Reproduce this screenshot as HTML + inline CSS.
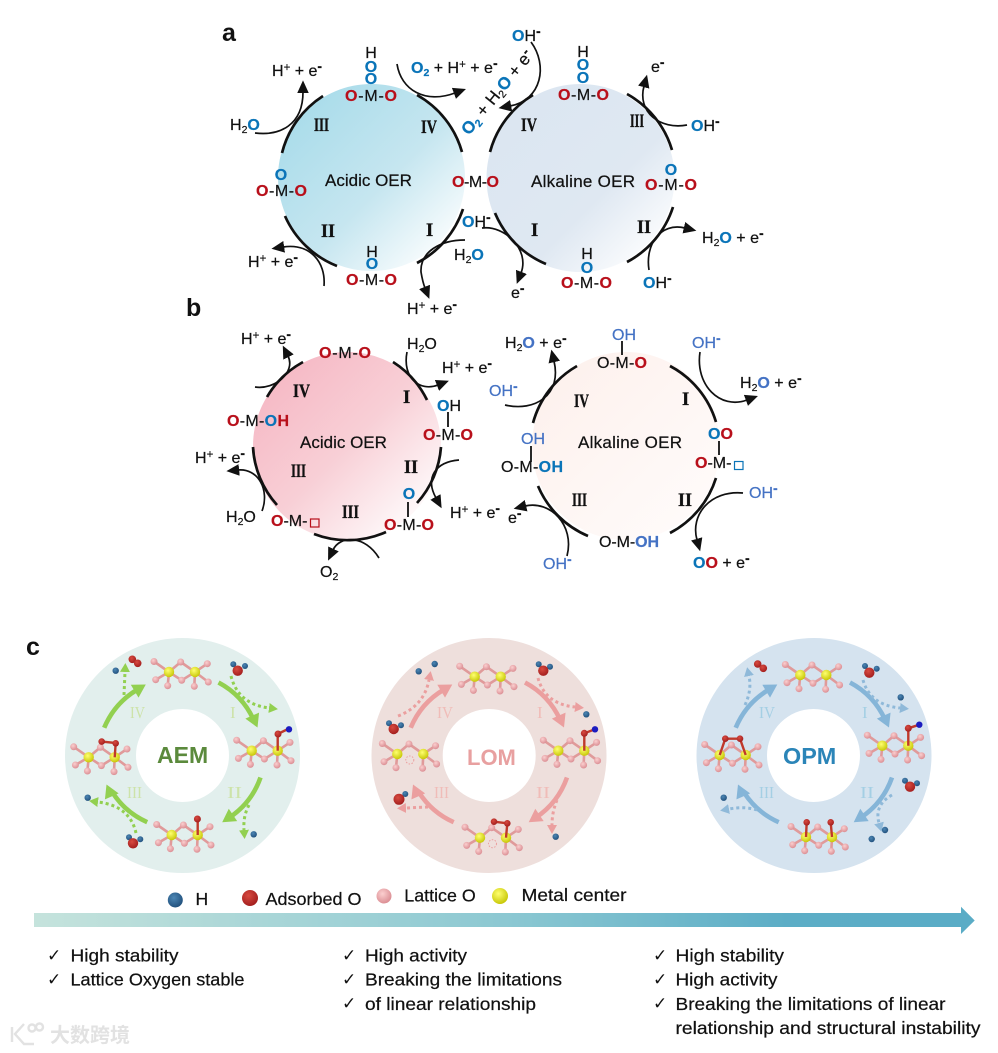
<!DOCTYPE html>
<html><head><meta charset="utf-8"><style>
html,body{margin:0;padding:0;background:#fff}
svg{display:block}
text{font-family:"Liberation Sans","Noto Sans CJK SC",sans-serif;font-size:16px;fill:#111;stroke:#111;stroke-width:.22}
.r{fill:#b80f1a;stroke:#b80f1a;font-weight:bold}.b{fill:#0a74b8;stroke:#0a74b8;font-weight:bold}.c{fill:#4472c4;stroke:#4472c4}.cb{fill:#4472c4;stroke:#4472c4;font-weight:bold}
.u{baseline-shift:5px;font-size:11.5px}.m{baseline-shift:5px;font-size:14px;font-weight:bold}.d{baseline-shift:-3px;font-size:10.5px}
.n{font-family:"Liberation Serif",serif;font-weight:bold;font-size:18.5px;stroke-width:.35}
.t{font-size:17px}.big{font-size:25px;font-weight:bold;stroke-width:0}
.l{font-size:17.5px}.k{font-family:"DejaVu Sans",sans-serif;font-size:17px;stroke-width:0}
.arc{fill:none;stroke:#111;stroke-width:2.7}
.cv{fill:none;stroke:#111;stroke-width:1.7;marker-end:url(#ah)}
.bar{stroke:#111;stroke-width:1.8}
.w{font-family:"Liberation Serif",serif;font-size:17px;stroke:none}
.x{stroke:none}
.dg,.dp,.db{fill:none;stroke-width:3;stroke-dasharray:3 3}
.dg{stroke:#92d050;marker-end:url(#hg)}.dp{stroke:#eb9f9f;marker-end:url(#hp)}.db{stroke:#8fb9d9;marker-end:url(#hb)}
</style></head><body>
<svg xmlns="http://www.w3.org/2000/svg" width="998" height="1053" viewBox="0 0 998 1053">
<defs>
<linearGradient id="g1" x1="0" y1="0" x2="1" y2="1"><stop offset=".12" stop-color="#a9dcea"/><stop offset=".55" stop-color="#c6e6f0"/><stop offset=".92" stop-color="#fff"/></linearGradient>
<linearGradient id="g2" x1="0" y1="0" x2="1" y2="1"><stop offset=".1" stop-color="#dbe6f1"/><stop offset=".6" stop-color="#dfe8f2"/><stop offset=".92" stop-color="#fff"/></linearGradient>
<linearGradient id="g3" x1="0" y1="0" x2="1" y2="1"><stop offset=".12" stop-color="#f6b9c5"/><stop offset=".5" stop-color="#f8cfd6"/><stop offset=".92" stop-color="#fff"/></linearGradient>
<linearGradient id="g4" x1="0" y1="0" x2="1" y2="1"><stop offset=".1" stop-color="#fdf1ed"/><stop offset=".9" stop-color="#fffbfa"/></linearGradient>
<linearGradient id="ga" x1="34" y1="0" x2="975" y2="0" gradientUnits="userSpaceOnUse"><stop offset="0" stop-color="#c5e3dc"/><stop offset=".5" stop-color="#8cc8d2"/><stop offset=".8" stop-color="#5cadc6"/><stop offset="1" stop-color="#5aacc6"/></linearGradient>
<radialGradient id="y" cx=".4" cy=".35" r=".7"><stop offset="0" stop-color="#ffff70"/><stop offset="1" stop-color="#c4c400"/></radialGradient>
<radialGradient id="p" cx=".4" cy=".35" r=".7"><stop offset="0" stop-color="#fbcfcf"/><stop offset="1" stop-color="#d98a90"/></radialGradient>
<radialGradient id="o" cx=".4" cy=".35" r=".7"><stop offset="0" stop-color="#d84a40"/><stop offset="1" stop-color="#a01c1c"/></radialGradient>
<radialGradient id="h" cx=".4" cy=".35" r=".7"><stop offset="0" stop-color="#4c86b4"/><stop offset="1" stop-color="#1f4e7a"/></radialGradient>
<marker id="ah" markerUnits="userSpaceOnUse" markerWidth="14" markerHeight="14" refX="1" refY="6" orient="auto" viewBox="0 0 12 12"><path d="M0 1 L11 6 L0 11 Z" fill="#111"/></marker>
<marker id="hg" markerUnits="userSpaceOnUse" markerWidth="10" markerHeight="10" refX="0" refY="5" orient="auto" viewBox="0 0 10 10"><path d="M0 0L9 5L0 10Z" fill="#92d050"/></marker>
<marker id="hp" markerUnits="userSpaceOnUse" markerWidth="10" markerHeight="10" refX="0" refY="5" orient="auto" viewBox="0 0 10 10"><path d="M0 0L9 5L0 10Z" fill="#eb9f9f"/></marker>
<marker id="hb" markerUnits="userSpaceOnUse" markerWidth="10" markerHeight="10" refX="0" refY="5" orient="auto" viewBox="0 0 10 10"><path d="M0 0L9 5L0 10Z" fill="#8fb9d9"/></marker>
<g id="bonds" stroke="#e09a9a" stroke-width="2.6">
<path d="M-13 0L-28 -10.5M-13 0L-1.3 -10M-13 0L-26.3 7.7M-13 0L-14.3 13.7M13 0L-1.3 -10M13 0L25.3 -8.3M13 0L26.3 10M13 0L12.3 14.3"/>
</g>
<g id="atoms">
<circle cx="-28" cy="-10.5" r="3.5" fill="url(#p)"/><circle cx="-1.3" cy="-10" r="3.5" fill="url(#p)"/><circle cx="25.3" cy="-8.3" r="3.5" fill="url(#p)"/><circle cx="-26.3" cy="7.7" r="3.5" fill="url(#p)"/><circle cx="26.3" cy="10" r="3.5" fill="url(#p)"/><circle cx="-14.3" cy="13.7" r="3.5" fill="url(#p)"/><circle cx="12.3" cy="14.3" r="3.5" fill="url(#p)"/>
<circle cx="-13" cy="0" r="5.2" fill="url(#y)"/><circle cx="13" cy="0" r="5.2" fill="url(#y)"/>
</g>
<g id="m"><use href="#bonds"/><path d="M-13 0L-.3 8.3M13 0L-.3 8.3" stroke="#e09a9a" stroke-width="2.6"/><circle cx="-.3" cy="8.3" r="3.5" fill="url(#p)"/><use href="#atoms"/></g>
<g id="mv"><use href="#bonds"/><circle cx="-.5" cy="6" r="4" fill="none" stroke="#eb9f9f" stroke-dasharray="1.5 1.5"/><use href="#atoms"/></g>
<g id="arr" fill="none" stroke="currentColor" stroke-width="4.6">
<path d="M36 -73A80 80 0 0 1 71 -36"/><polygon points="0,0 -13,-7.5 -13,7.5" transform="translate(75 -28) rotate(66)" fill="currentColor" stroke="none"/>
<path d="M78 22A80 80 0 0 1 47 62"/><polygon points="0,0 -13,-7.5 -13,7.5" transform="translate(39.7 66.7) rotate(146)" fill="currentColor" stroke="none"/>
<path d="M-35.3 66.7A80 80 0 0 1 -70 37"/><polygon points="0,0 -13,-7.5 -13,7.5" transform="translate(-76 29) rotate(246)" fill="currentColor" stroke="none"/>
<path d="M-78.3 -27.7A80 80 0 0 1 -45 -66"/><polygon points="0,0 -13,-7.5 -13,7.5" transform="translate(-36.7 -71) rotate(-31)" fill="currentColor" stroke="none"/>
</g>
</defs>

<!-- panel a -->
<text class="big" x="222" y="41">a</text>
<circle cx="371.5" cy="177.5" r="93.5" fill="url(#g1)"/>
<circle cx="580.5" cy="178" r="94" fill="url(#g2)"/>
<path class="arc" d="M282 153A95 95 0 0 1 323 96M417 95A95 95 0 0 1 462 152M463 209A95 95 0 0 1 417 263M337 266A95 95 0 0 1 285 216"/>
<path class="arc" d="M490 152A95 95 0 0 1 533 95M627 94A95 95 0 0 1 672 150M673 207A95 95 0 0 1 627 262M546 264A95 95 0 0 1 495 213"/>
<path class="cv" d="M255 133C280 136 303 125 303 92"/>
<path class="cv" d="M397 64C401 90 425 104 455 93"/>
<path class="cv" d="M465 240C440 240 420 252 421 272C422 278 423 283 425 288"/>
<path class="cv" d="M324 286C326 262 310 243 283 247"/>
<path class="cv" d="M531 42C548 65 542 100 510 106"/>
<path class="cv" d="M687 125C660 130 637 112 644 86"/>
<path class="cv" d="M649 270C645 245 660 222 685 228"/>
<path class="cv" d="M482 228C505 225 530 250 521 273"/>

<text x="371" y="58" text-anchor="middle">H</text><text class="b" x="371" y="72" text-anchor="middle">O</text><text class="b" x="371" y="84" text-anchor="middle">O</text>
<text x="345" y="101" textLength="52"><tspan class="r">O</tspan>-M-<tspan class="r">O</tspan></text>
<text x="272" y="76">H<tspan class="u">+</tspan> + e<tspan class="m">-</tspan></text>
<text x="230" y="130">H<tspan class="d">2</tspan><tspan class="b">O</tspan></text>
<text class="b" x="281" y="180" text-anchor="middle">O</text>
<text x="256" y="196" textLength="51"><tspan class="r">O</tspan>-M-<tspan class="r">O</tspan></text>
<text class="t" x="325" y="186">Acidic OER</text>
<text x="452" y="187" textLength="47"><tspan class="r">O</tspan>-M-<tspan class="r">O</tspan></text>
<text class="n" x="314" y="131" textLength="15" lengthAdjust="spacingAndGlyphs">III</text>
<text class="n" x="421" y="133" textLength="16" lengthAdjust="spacingAndGlyphs">IV</text>
<text class="n" x="426" y="236">I</text>
<text class="n" x="321" y="237" textLength="14" lengthAdjust="spacingAndGlyphs">II</text>
<text x="372" y="257" text-anchor="middle">H</text><text class="b" x="372" y="269" text-anchor="middle">O</text>
<text x="346" y="285" textLength="51"><tspan class="r">O</tspan>-M-<tspan class="r">O</tspan></text>
<text x="248" y="267">H<tspan class="u">+</tspan> + e<tspan class="m">-</tspan></text>
<text x="454" y="260">H<tspan class="d">2</tspan><tspan class="b">O</tspan></text>
<text x="462" y="227"><tspan class="b">O</tspan>H<tspan class="m">-</tspan></text>
<text x="407" y="314">H<tspan class="u">+</tspan> + e<tspan class="m">-</tspan></text>
<text x="411" y="73"><tspan class="b">O</tspan><tspan class="b d">2</tspan> + H<tspan class="u">+</tspan> + e<tspan class="m">-</tspan></text>
<text transform="translate(469 136) rotate(-51)" style="font-size:17px"><tspan class="b">O</tspan><tspan class="b d">2</tspan> + H<tspan class="d">2</tspan><tspan class="b">O</tspan> + e<tspan class="m">-</tspan></text>
<text x="512" y="41"><tspan class="b">O</tspan>H<tspan class="m">-</tspan></text>
<text x="583" y="57" text-anchor="middle">H</text><text class="b" x="583" y="70" text-anchor="middle">O</text><text class="b" x="583" y="83" text-anchor="middle">O</text>
<text x="558" y="100" textLength="51"><tspan class="r">O</tspan>-M-<tspan class="r">O</tspan></text>
<text x="651" y="72">e<tspan class="m">-</tspan></text>
<text x="691" y="131"><tspan class="b">O</tspan>H<tspan class="m">-</tspan></text>
<text class="n" x="521" y="131" textLength="16" lengthAdjust="spacingAndGlyphs">IV</text>
<text class="n" x="630" y="127" textLength="14" lengthAdjust="spacingAndGlyphs">III</text>
<text class="b" x="671" y="175" text-anchor="middle">O</text>
<text x="645" y="190" textLength="52"><tspan class="r">O</tspan>-M-<tspan class="r">O</tspan></text>
<text class="t" x="531" y="187" textLength="104">Alkaline OER</text>
<text class="n" x="637" y="233" textLength="14" lengthAdjust="spacingAndGlyphs">II</text>
<text class="n" x="531" y="236">I</text>
<text x="702" y="243">H<tspan class="d">2</tspan><tspan class="b">O</tspan> + e<tspan class="m">-</tspan></text>
<text x="587" y="259" text-anchor="middle">H</text><text class="b" x="587" y="273" text-anchor="middle">O</text>
<text x="561" y="288" textLength="51"><tspan class="r">O</tspan>-M-<tspan class="r">O</tspan></text>
<text x="643" y="288"><tspan class="b">O</tspan>H<tspan class="m">-</tspan></text>
<text x="511" y="298">e<tspan class="m">-</tspan></text>

<!-- panel b -->
<text class="big" x="186" y="316">b</text>
<circle cx="347" cy="446" r="94" fill="url(#g3)"/>
<circle cx="626" cy="446" r="94" fill="url(#g4)"/>
<path class="arc" d="M393 362A94 94 0 0 1 427 400M441 447A94 94 0 0 1 417 503M386 532A94 94 0 0 1 314 534M277 505A94 94 0 0 1 253 447M267 397A94 94 0 0 1 303 362"/>
<path class="arc" d="M670 366A94 94 0 0 1 716 422M716 478A94 94 0 0 1 670 533M588 536A94 94 0 0 1 538 486M533 423A94 94 0 0 1 577 366"/>
<path class="cv" d="M255 387C275 390 296 372 288 356"/>
<path class="cv" d="M407 352C402 378 420 392 438 385"/>
<path class="cv" d="M459 460C435 462 425 478 436 498"/>
<path class="cv" d="M262 511C270 490 258 468 238 470"/>
<path class="cv" d="M379 558C365 535 340 535 333 550"/>
<path class="cv" d="M505 405C535 412 562 395 554 361"/>
<path class="cv" d="M700 352C695 385 720 410 747 400"/>
<path class="cv" d="M743 493C710 490 690 515 697 540"/>
<path class="cv" d="M567 556C575 525 550 500 525 506"/>
<path class="bar" d="M448 412V427M408 502V517M622 341V355M719 441V455M531 446V462"/>

<text x="241" y="344">H<tspan class="u">+</tspan> + e<tspan class="m">-</tspan></text>
<text x="319" y="358" textLength="52"><tspan class="r">O</tspan>-M-<tspan class="r">O</tspan></text>
<text x="407" y="349">H<tspan class="d">2</tspan>O</text>
<text x="442" y="373">H<tspan class="u">+</tspan> + e<tspan class="m">-</tspan></text>
<text class="n" x="403" y="403">I</text>
<text class="n" x="293" y="397" textLength="17" lengthAdjust="spacingAndGlyphs">IV</text>
<text x="437" y="411"><tspan class="b">O</tspan>H</text>
<text x="423" y="440" textLength="50"><tspan class="r">O</tspan>-M-<tspan class="r">O</tspan></text>
<text x="227" y="426" textLength="62"><tspan class="r">O</tspan>-M-<tspan class="b">O</tspan><tspan class="r">H</tspan></text>
<text class="t" x="300" y="448">Acidic OER</text>
<text class="n" x="404" y="473" textLength="14" lengthAdjust="spacingAndGlyphs">II</text>
<text x="195" y="463">H<tspan class="u">+</tspan> + e<tspan class="m">-</tspan></text>
<text class="n" x="291" y="477" textLength="15" lengthAdjust="spacingAndGlyphs">III</text>
<text class="b" x="409" y="499" text-anchor="middle">O</text>
<text x="384" y="530" textLength="50"><tspan class="r">O</tspan>-M-<tspan class="r">O</tspan></text>
<text class="n" x="342" y="518" textLength="17" lengthAdjust="spacingAndGlyphs">III</text>
<text x="271" y="526"><tspan class="r">O</tspan>-M-</text>
<rect x="310.5" y="519" width="8.5" height="8" fill="none" stroke="#b80f1a" stroke-width="1.2"/>
<text x="226" y="522">H<tspan class="d">2</tspan>O</text>
<text x="450" y="518">H<tspan class="u">+</tspan> + e<tspan class="m">-</tspan></text>
<text x="320" y="577">O<tspan class="d">2</tspan></text>

<text class="c" x="612" y="340">OH</text>
<text x="597" y="368" textLength="50">O-M-<tspan class="r">O</tspan></text>
<text x="692" y="348"><tspan class="c">OH</tspan><tspan class="c m">-</tspan></text>
<text x="740" y="388">H<tspan class="d">2</tspan><tspan class="cb">O</tspan> + e<tspan class="m">-</tspan></text>
<text x="505" y="348">H<tspan class="d">2</tspan><tspan class="cb">O</tspan> + e<tspan class="m">-</tspan></text>
<text x="489" y="396"><tspan class="c">OH</tspan><tspan class="c m">-</tspan></text>
<text x="508" y="523">e<tspan class="m">-</tspan></text>
<text class="n" x="574" y="407" textLength="15" lengthAdjust="spacingAndGlyphs">IV</text>
<text class="n" x="682" y="405">I</text>
<text class="t" x="578" y="448" textLength="104">Alkaline OER</text>
<text x="708" y="439"><tspan class="b">O</tspan><tspan class="r">O</tspan></text>
<text x="695" y="468"><tspan class="r">O</tspan>-M-</text>
<rect x="734.5" y="461.5" width="8.5" height="8" fill="none" stroke="#0a74b8" stroke-width="1.2"/>
<text class="c" x="521" y="444">OH</text>
<text x="501" y="472" textLength="62">O-M-<tspan class="b">OH</tspan></text>
<text class="n" x="572" y="506" textLength="15" lengthAdjust="spacingAndGlyphs">III</text>
<text class="n" x="678" y="506" textLength="14" lengthAdjust="spacingAndGlyphs">II</text>
<text x="749" y="498"><tspan class="c">OH</tspan><tspan class="c m">-</tspan></text>
<text x="599" y="547" textLength="60">O-M-<tspan class="cb">OH</tspan></text>
<text x="693" y="568"><tspan class="b">O</tspan><tspan class="r">O</tspan> + e<tspan class="m">-</tspan></text>
<text x="543" y="569"><tspan class="c">OH</tspan><tspan class="c m">-</tspan></text>

<!-- panel c -->
<text class="big" x="26" y="655">c</text>
<path fill="#e2efed" fill-rule="evenodd" d="M65 755.5a117.5 117.5 0 1 0 235 0a117.5 117.5 0 1 0 -235 0ZM136 755.5a46.5 46.5 0 1 0 93 0a46.5 46.5 0 1 0 -93 0Z"/>
<path fill="#eedfdc" fill-rule="evenodd" d="M371.5 755.5a117.5 117.5 0 1 0 235 0a117.5 117.5 0 1 0 -235 0ZM442.7 755.5a46.5 46.5 0 1 0 93 0a46.5 46.5 0 1 0 -93 0Z"/>
<path fill="#d5e3ef" fill-rule="evenodd" d="M696.5 755.5a117.5 117.5 0 1 0 235 0a117.5 117.5 0 1 0 -235 0ZM767 755.5a46.5 46.5 0 1 0 93 0a46.5 46.5 0 1 0 -93 0Z"/>
<text class="x" x="157" y="763" style="font-size:23px;font-weight:bold;fill:#5b8a3c">AEM</text>
<text class="x" x="467" y="765" style="font-size:22px;font-weight:bold;fill:#e8a0a0">LOM</text>
<text class="x" x="783" y="764" style="font-size:23.4px;font-weight:bold;fill:#2b85b8">OPM</text>

<use href="#arr" x="182.5" y="755.5" style="color:#92d050"/>
<use href="#arr" x="489" y="755.5" style="color:#eb9f9f"/>
<use href="#arr" x="814" y="755.5" style="color:#85b5d8"/>

<path class="dg" d="M231 676Q238 704 269 708"/>
<path class="dg" d="M249 805Q243 816 244 830"/>
<path class="dg" d="M136 833Q130 806 98 802"/>
<path class="dg" d="M124 695L125 672"/>
<path class="dp" d="M538 678Q545 704 575 707"/>
<path class="dp" d="M557 800Q552 812 552 825"/>
<path class="dp" d="M428 807L406 808"/>
<path class="dp" d="M398 716Q424 706 429 680"/>
<path class="db" d="M863 680Q870 705 900 708"/>
<path class="db" d="M892 795Q874 805 879 823"/>
<path class="db" d="M757 810Q745 806 729 809"/>
<path class="db" d="M745 705Q752 690 749 676"/>

<text class="w" x="130" y="718" textLength="15" lengthAdjust="spacingAndGlyphs" style="fill:#cde3a9">IV</text>
<text class="w" x="230" y="718" style="fill:#cde3a9">I</text>
<text class="w" x="227" y="798" textLength="15" lengthAdjust="spacingAndGlyphs" style="fill:#cde3a9">II</text>
<text class="w" x="127" y="798" textLength="15" lengthAdjust="spacingAndGlyphs" style="fill:#cde3a9">III</text>
<text class="w" x="437" y="718" textLength="16" lengthAdjust="spacingAndGlyphs" style="fill:#f0bcb8">IV</text>
<text class="w" x="537" y="718" style="fill:#f0bcb8">I</text>
<text class="w" x="536" y="798" textLength="14" lengthAdjust="spacingAndGlyphs" style="fill:#f0bcb8">II</text>
<text class="w" x="434" y="798" textLength="15" lengthAdjust="spacingAndGlyphs" style="fill:#f0bcb8">III</text>
<text class="w" x="759" y="718" textLength="16" lengthAdjust="spacingAndGlyphs" style="fill:#a4cfe4">IV</text>
<text class="w" x="862" y="718" style="fill:#a4cfe4">I</text>
<text class="w" x="860" y="798" textLength="14" lengthAdjust="spacingAndGlyphs" style="fill:#a4cfe4">II</text>
<text class="w" x="759" y="798" textLength="15" lengthAdjust="spacingAndGlyphs" style="fill:#a4cfe4">III</text>

<!-- AEM molecules -->
<use href="#m" x="182" y="672"/>
<use href="#m" x="264.7" y="750.7"/><path d="M277.7 750.7V734L288 729" stroke="#c0392b" stroke-width="2.4" fill="none"/><circle cx="278" cy="734" r="3.5" fill="url(#o)"/><circle cx="289" cy="729.3" r="3.2" fill="#1c1cc0"/>
<use href="#m" x="184.7" y="835"/><path d="M197.7 835V819" stroke="#c0392b" stroke-width="2.4"/><circle cx="197.4" cy="819" r="3.5" fill="url(#o)"/>
<use href="#m" x="101.7" y="757.3"/><path d="M114.7 757.3L115.7 743L101.7 741.6" stroke="#c0392b" stroke-width="2.4" fill="none"/><circle cx="101.7" cy="741.6" r="3.3" fill="url(#o)"/><circle cx="115.7" cy="743.3" r="3.3" fill="url(#o)"/>
<circle cx="233.3" cy="664.3" r="3" fill="url(#h)"/><circle cx="245" cy="666" r="3" fill="url(#h)"/><circle cx="237.7" cy="670.7" r="5.2" fill="url(#o)"/>
<circle cx="253.7" cy="834.3" r="3.2" fill="url(#h)"/>
<circle cx="129" cy="837.3" r="3" fill="url(#h)"/><circle cx="140.3" cy="839.3" r="3" fill="url(#h)"/><circle cx="133" cy="843.3" r="5.2" fill="url(#o)"/>
<circle cx="87.7" cy="797.7" r="3.2" fill="url(#h)"/><circle cx="115.7" cy="670.7" r="3.2" fill="url(#h)"/>
<circle cx="132.3" cy="659.3" r="3.8" fill="url(#o)"/><circle cx="137.7" cy="663.3" r="3.8" fill="url(#o)"/>

<!-- LOM molecules -->
<use href="#m" x="487.7" y="676.7"/>
<use href="#m" x="571.3" y="750.7"/><path d="M584.3 750.7V733.3L595 729.3" stroke="#c0392b" stroke-width="2.4" fill="none"/><circle cx="584.3" cy="733.3" r="3.5" fill="url(#o)"/><circle cx="595" cy="729.3" r="3.2" fill="#1c1cc0"/>
<use href="#mv" x="493" y="837.7"/><path d="M506 837.7L507.3 823.3L494 821.7" stroke="#c0392b" stroke-width="2.4" fill="none"/><circle cx="494" cy="821.7" r="3.3" fill="url(#o)"/><circle cx="507.3" cy="823.3" r="3.3" fill="url(#o)"/>
<use href="#mv" x="410.3" y="754"/>
<circle cx="538.7" cy="664.3" r="3" fill="url(#h)"/><circle cx="550" cy="666.7" r="3" fill="url(#h)"/><circle cx="543.3" cy="670.7" r="5.2" fill="url(#o)"/>
<circle cx="586.3" cy="714.3" r="3.2" fill="url(#h)"/><circle cx="555.7" cy="836.7" r="3.2" fill="url(#h)"/>
<circle cx="405.3" cy="794" r="3" fill="url(#h)"/><circle cx="399" cy="799.3" r="5.5" fill="url(#o)"/>
<circle cx="389" cy="723.3" r="3" fill="url(#h)"/><circle cx="401" cy="725.3" r="3" fill="url(#h)"/><circle cx="393.7" cy="729" r="5.2" fill="url(#o)"/>
<circle cx="418.7" cy="671.3" r="3.2" fill="url(#h)"/><circle cx="434.7" cy="664" r="3.2" fill="url(#h)"/>

<!-- OPM molecules -->
<use href="#m" x="813.3" y="675"/>
<use href="#m" x="895.3" y="745.7"/><path d="M908.3 745.7V728.3L919.3 724.7" stroke="#c0392b" stroke-width="2.4" fill="none"/><circle cx="908.3" cy="728.3" r="3.5" fill="url(#o)"/><circle cx="919.3" cy="724.7" r="3.2" fill="#1c1cc0"/>
<use href="#m" x="819" y="837"/><path d="M806 837L806.7 822.3M832 837L830.7 822.3" stroke="#c0392b" stroke-width="2.4"/><circle cx="806.7" cy="822.3" r="3.3" fill="url(#o)"/><circle cx="830.7" cy="822.3" r="3.3" fill="url(#o)"/>
<use href="#m" x="732.7" y="755"/><path d="M719.7 755L725.3 738.7H740L745.7 755" stroke="#c0392b" stroke-width="2.4" fill="none"/><circle cx="725.3" cy="738.7" r="3.3" fill="url(#o)"/><circle cx="740" cy="738.7" r="3.3" fill="url(#o)"/>
<circle cx="865" cy="666" r="3" fill="url(#h)"/><circle cx="876.7" cy="668.7" r="3" fill="url(#h)"/><circle cx="869.3" cy="672.7" r="5.2" fill="url(#o)"/>
<circle cx="900.7" cy="697.3" r="3.2" fill="url(#h)"/>
<circle cx="905" cy="780.7" r="3" fill="url(#h)"/><circle cx="917" cy="783.3" r="3" fill="url(#h)"/><circle cx="910" cy="786.7" r="5.2" fill="url(#o)"/>
<circle cx="885" cy="830" r="3.2" fill="url(#h)"/><circle cx="871.7" cy="839" r="3.2" fill="url(#h)"/>
<circle cx="723.7" cy="797.7" r="3.2" fill="url(#h)"/>
<circle cx="757.7" cy="664" r="3.8" fill="url(#o)"/><circle cx="763.3" cy="668.3" r="3.8" fill="url(#o)"/>

<!-- legend -->
<circle cx="175.3" cy="900" r="7.5" fill="url(#h)"/><text class="l" x="195.5" y="905">H</text>
<circle cx="250" cy="898" r="8" fill="url(#o)"/><text class="l" x="265.5" y="905" textLength="96" lengthAdjust="spacingAndGlyphs">Adsorbed O</text>
<circle cx="384" cy="896" r="7.5" fill="url(#p)"/><text class="l" x="404.3" y="901.5" textLength="71.5" lengthAdjust="spacingAndGlyphs">Lattice O</text>
<circle cx="500" cy="896" r="8" fill="url(#y)"/><text class="l" x="521.5" y="901" textLength="105" lengthAdjust="spacingAndGlyphs">Metal center</text>

<path d="M34 913H961V906.7L974.7 920.5L961 934V927H34Z" fill="url(#ga)"/>

<!-- bullets -->
<text class="k" x="47" y="961">✓</text><text class="l" x="70.5" y="961.5" textLength="108" lengthAdjust="spacingAndGlyphs">High stability</text>
<text class="k" x="47" y="985">✓</text><text class="l" x="70.5" y="985.5" textLength="174" lengthAdjust="spacingAndGlyphs">Lattice Oxygen stable</text>
<text class="k" x="342" y="961">✓</text><text class="l" x="365" y="961.5" textLength="102" lengthAdjust="spacingAndGlyphs">High activity</text>
<text class="k" x="342" y="985">✓</text><text class="l" x="365" y="985.5" textLength="197" lengthAdjust="spacingAndGlyphs">Breaking the limitations</text>
<text class="k" x="342" y="1009">✓</text><text class="l" x="365" y="1010" textLength="171" lengthAdjust="spacingAndGlyphs">of linear relationship</text>
<text class="k" x="653" y="961">✓</text><text class="l" x="675.5" y="961.5" textLength="108.5" lengthAdjust="spacingAndGlyphs">High stability</text>
<text class="k" x="653" y="985">✓</text><text class="l" x="675.5" y="985.5" textLength="102" lengthAdjust="spacingAndGlyphs">High activity</text>
<text class="k" x="653" y="1009">✓</text><text class="l" x="675.5" y="1010" textLength="270" lengthAdjust="spacingAndGlyphs">Breaking the limitations of linear</text>
<text class="l" x="675.5" y="1034" textLength="305" lengthAdjust="spacingAndGlyphs">relationship and structural instability</text>

<!-- watermark -->
<g fill="none" stroke="#e2e2e2" stroke-width="2.4"><path d="M12 1027V1042M24 1024L15 1034L24 1044H34"/><circle cx="32" cy="1028" r="3.5"/><circle cx="39.5" cy="1027" r="3.5"/></g>
<text class="x" x="50" y="1042" style="font-size:20px;fill:#e2e2e2;font-weight:bold;font-family:'Noto Sans CJK SC',sans-serif">大数跨境</text>
</svg>
</body></html>
